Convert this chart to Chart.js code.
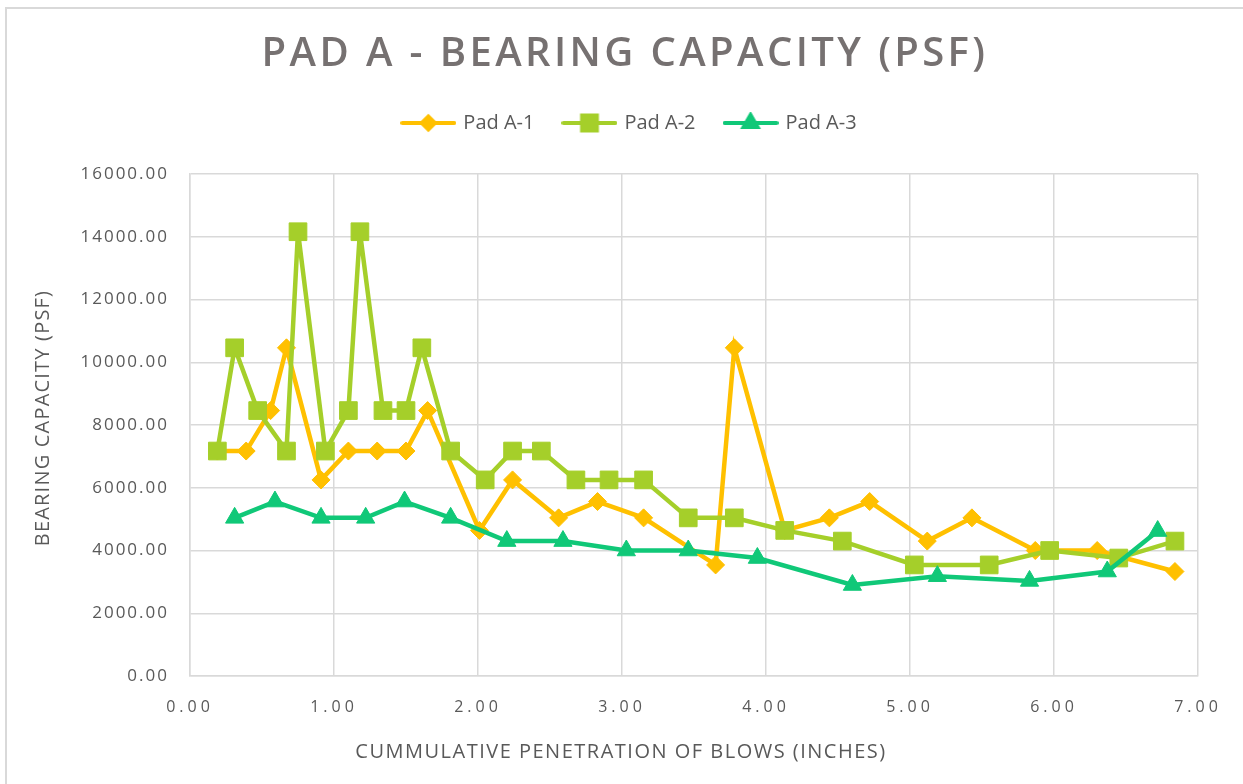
<!DOCTYPE html>
<html>
<head>
<meta charset="utf-8">
<script src="https://cdn.jsdelivr.net/npm/chart.js@4.4.1/dist/chart.umd.min.js"></script>
<style>
html,body{margin:0;padding:0;background:#fff;}
#wrap{width:1243px;height:784px;position:relative;}
</style>
</head>
<body>
<div id="wrap"><canvas id="c" width="1243" height="784"></canvas></div>
<script>
// ---- Data ----
const seriesNames = ['Pad A-1', 'Pad A-2', 'Pad A-3'];

const padA1X = [0.19,0.39,0.56,0.67,0.91,1.10,1.30,1.50,1.65,2.01,2.24,2.56,2.83,3.15,3.65,3.78,4.13,4.44,4.72,5.12,5.43,5.87,6.30,6.84];
const padA1Y = [7170,7170,8460,10460,6250,7170,7170,7170,8460,4640,6250,5040,5560,5040,3540,10460,4640,5040,5560,4300,5040,4000,4000,3330];

const padA2X = [0.19,0.31,0.47,0.67,0.75,0.94,1.10,1.18,1.34,1.50,1.61,1.81,2.05,2.24,2.44,2.68,2.91,3.15,3.46,3.78,4.13,4.53,5.03,5.55,5.97,6.45,6.84];
const padA2Y = [7170,10460,8460,7170,14160,7170,8460,14160,8460,8460,10460,7170,6250,7170,7170,6250,6250,6250,5040,5040,4640,4300,3540,3540,4000,3760,4300];

const padA3X = [0.31,0.59,0.91,1.22,1.49,1.81,2.20,2.59,3.03,3.46,3.94,4.60,5.19,5.83,6.37,6.72];
const padA3Y = [5040,5560,5040,5040,5560,5040,4300,4300,4000,4000,3760,2900,3180,3030,3330,4620];

const xTicks = [0,1,2,3,4,5,6,7];
const yTicks = [0,2000,4000,6000,8000,10000,12000,14000,16000];

const chartTitle = 'PAD A - BEARING CAPACITY (PSF)';
const xTitle = 'CUMMULATIVE PENETRATION OF BLOWS (INCHES)';
const yTitle = 'BEARING CAPACITY (PSF)';

// ---- Styles ----
const colors = ['#FFC000', '#A5CF2A', '#10C878'];
const styles = ['rectRot', 'rect', 'triangle'];
const radii = [9, 12.5, 10.5];
const legendRadii = [6.5, 10.5, 8];
const textColor = '#595959';
const gridColor = '#d9d9d9';
const FONT = "'Open Sans', 'DejaVu Sans', sans-serif";

function zip(xs, ys){ return xs.map((x,i)=>({x:x, y:ys[i]})); }

function legendIcon(i){
  const c = document.createElement('canvas');
  c.width = 56; c.height = 22;
  const g = c.getContext('2d');
  g.strokeStyle = colors[i]; g.fillStyle = colors[i];
  g.lineWidth = 4; g.lineCap = 'round';
  g.beginPath(); g.moveTo(2, 11); g.lineTo(54, 11); g.stroke();
  Chart.helpers.drawPoint(g, {pointStyle: styles[i], radius: legendRadii[i], rotation: 0, borderWidth: 1}, 28, 11);
  g.fill();
  return c;
}

const datasets = [
  {label: seriesNames[0], data: zip(padA1X, padA1Y)},
  {label: seriesNames[1], data: zip(padA2X, padA2Y)},
  {label: seriesNames[2], data: zip(padA3X, padA3Y)}
].map((d, i) => Object.assign(d, {
  showLine: true,
  borderColor: colors[i],
  backgroundColor: colors[i],
  borderWidth: 4.5,
  pointStyle: styles[i],
  pointRadius: radii[i],
  pointHoverRadius: radii[i],
  pointBackgroundColor: colors[i],
  pointBorderColor: colors[i],
  pointBorderWidth: 1,
  tension: 0,
  order: 3 - i
}));

const spacingPlugin = {
  id: 'spacing',
  beforeLayout(chart){
    const lg = chart.legend;
    if (lg && !lg._patchedFit){
      const f = lg.fit;
      lg.fit = function(){ f.apply(this, arguments); this.height += 31; };
      lg._patchedFit = true;
    }
  },
  afterLayout(chart){
    const ctx = chart.ctx;
    const wrap = (obj, name, sp, dx, dy) => {
      if (!obj || obj['_p_' + name]) return;
      const orig = obj[name];
      obj[name] = function(){
        ctx.save(); ctx.letterSpacing = sp;
        if (dx || dy) ctx.translate(dx || 0, dy || 0);
        const r = orig.apply(this, arguments);
        ctx.restore(); return r;
      };
      obj['_p_' + name] = true;
    };
    wrap(chart.titleBlock, 'draw', '3.4px', 11, 0);
    wrap(chart.legend, 'draw', '0px', 16, 0);
    wrap(chart.scales.x, 'drawLabels', '4px');
    wrap(chart.scales.y, 'drawLabels', '2px');
    // axis titles in the reference are centred on the whole chart box
    wrap(chart.scales.x, 'drawTitle', '1.5px', 621 - (chart.chartArea.left + chart.chartArea.right) / 2, 0);
    wrap(chart.scales.y, 'drawTitle', '1.2px', 0, 418 - (chart.chartArea.top + chart.chartArea.bottom) / 2);
  },
  beforeDraw(chart){
    const ctx = chart.ctx;
    ctx.save();
    ctx.fillStyle = '#fff';
    ctx.fillRect(0, 0, chart.width, chart.height);
    ctx.strokeStyle = gridColor;
    ctx.lineWidth = 2;
    ctx.strokeRect(6, 8, 1400, 1000);
    ctx.restore();
  }
};

new Chart(document.getElementById('c'), {
  type: 'scatter',
  data: {datasets: datasets},
  options: {
    responsive: false,
    animation: false,
    events: [],
    layout: {padding: {top: 0, left: 30, right: 45, bottom: 20}},
    plugins: {
      title: {
        display: true,
        text: chartTitle,
        color: '#767171',
        font: {family: FONT, size: 40, weight: '600'},
        padding: {top: 31, bottom: 4}
      },
      legend: {
        display: true,
        labels: {
          usePointStyle: true,
          pointStyleWidth: 50,
          padding: 30,
          color: textColor,
          font: {family: FONT, size: 20},
          generateLabels: (chart) => chart.data.datasets.map((ds, i) => ({
            text: ds.label,
            fillStyle: colors[i],
            strokeStyle: colors[i],
            lineWidth: 1,
            pointStyle: legendIcon(i),
            hidden: false,
            datasetIndex: i,
            fontColor: textColor
          }))
        }
      },
      tooltip: {enabled: false}
    },
    scales: {
      x: {
        type: 'linear',
        min: xTicks[0],
        max: xTicks[xTicks.length - 1],
        afterBuildTicks: (s) => { s.ticks = xTicks.map(v => ({value: v})); },
        afterFit: (s) => { s.height = 88; },
        ticks: {
          callback: (v) => Number(v).toFixed(2),
          padding: 22,
          color: textColor,
          maxRotation: 0,
          font: {family: FONT, size: 16}
        },
        grid: {color: gridColor, lineWidth: 1.5, drawTicks: false},
        border: {color: gridColor, width: 1.5},
        title: {
          display: true,
          text: xTitle,
          color: textColor,
          font: {family: FONT, size: 20},
          padding: {top: 0, bottom: 0}
        }
      },
      y: {
        type: 'linear',
        min: yTicks[0],
        max: yTicks[yTicks.length - 1],
        afterBuildTicks: (s) => { s.ticks = yTicks.map(v => ({value: v})); },
        afterFit: (s) => { s.width = 160; },
        ticks: {
          callback: (v) => Number(v).toFixed(2),
          padding: 21,
          color: textColor,
          font: {family: FONT, size: 17}
        },
        grid: {color: gridColor, lineWidth: 1.5, drawTicks: false},
        border: {color: gridColor, width: 1.5},
        title: {
          display: true,
          text: yTitle,
          color: textColor,
          font: {family: FONT, size: 20},
          padding: {top: 1, bottom: 0}
        }
      }
    }
  },
  plugins: [spacingPlugin]
});
</script>
</body>
</html>
